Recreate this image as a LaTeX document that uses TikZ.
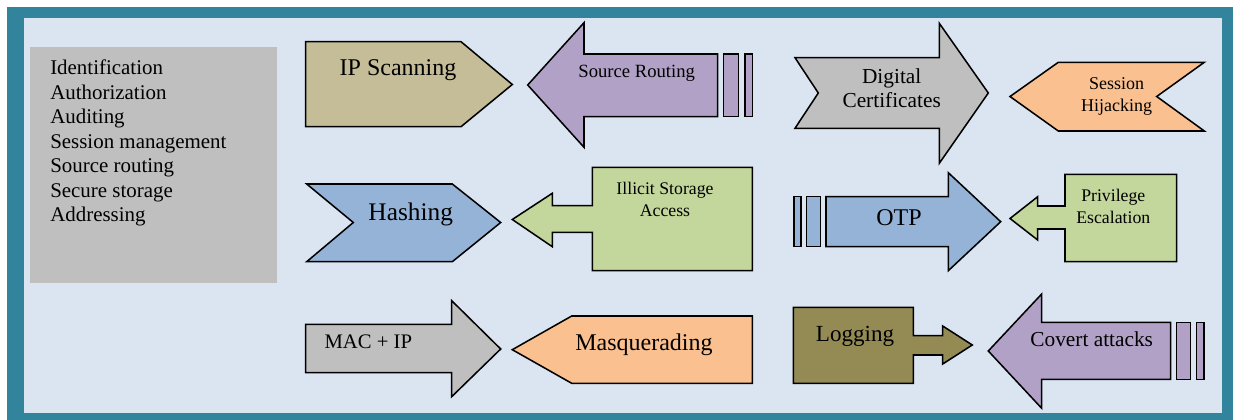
\documentclass[tikz,border=0pt]{standalone}
\usepackage{fontspec}
\IfFontExistsTF{LiberationSerif-Regular.ttf}
  {\setmainfont{LiberationSerif}[Extension=.ttf,UprightFont=*-Regular,BoldFont=*-Bold,ItalicFont=*-Italic,BoldItalicFont=*-BoldItalic]}
  {\setmainfont{DejaVu Serif}}
\definecolor{frameteal}{HTML}{31849B}
\definecolor{innerbg}{HTML}{DBE5F1}
\definecolor{grayfill}{HTML}{BFBFBF}
\definecolor{tanfill}{HTML}{C4BD97}
\definecolor{purplefill}{HTML}{B2A1C7}
\definecolor{orangefill}{HTML}{FAC090}
\definecolor{bluefill}{HTML}{95B3D7}
\definecolor{greenfill}{HTML}{C3D69B}
\definecolor{olivefill}{HTML}{948A54}
\newcommand{\fs}[1]{\fontsize{#1}{#1}\rmfamily\selectfont}
\begin{document}
\begin{tikzpicture}[x=0.75pt,y=-0.75pt,
  shp/.style={draw=black,line width=1.15pt,line join=miter},
  lbl/.style={anchor=base,inner sep=0pt,text=black},
  litem/.style={anchor=base west,inner sep=0pt,text=black,font=\fs{15.7}}]
\useasboundingbox (0,0) rectangle (1233,420);
\fill[white] (0,0) rectangle (1233,420);
\fill[frameteal] (6.7,7) rectangle (1233,420);
\fill[innerbg] (24,18) rectangle (1222,413);
% left list box
\fill[grayfill] (30,47) rectangle (277,283);
\node[litem] (l1) at (50,75) {Identification};
\node[litem] (l2) at (50,99.5) {Authorization};
\node[litem] (l3) at (50,124) {Auditing};
\node[litem] (l4) at (50,148.5) {Session management};
\node[litem] (l5) at (50,173) {Source routing};
\node[litem] (l6) at (50,197.5) {Secure storage};
\node[litem] (l7) at (50,222) {Addressing};
% row 1
\draw[shp,fill=tanfill] (305.7,41.7) -- (461,41.7) -- (512.3,84.5) -- (461,126.7) -- (305.7,126.7) -- cycle;
\node[lbl,font=\fs{18}] (ips) at (398,75.7) {IP Scanning};
\draw[shp,fill=purplefill] (527.7,85) -- (584,22.7) -- (584,54) -- (717.7,54) -- (717.7,116.7) -- (584,116.7) -- (584,147.3) -- cycle;
\draw[shp,fill=purplefill] (723.3,54) rectangle (738.3,116.7);
\draw[shp,fill=purplefill] (745,54) rectangle (752.7,116.7);
\node[lbl,font=\fs{14}] (sr) at (636.7,77.7) {Source Routing};
\draw[shp,fill=grayfill] (795,57.7) -- (939.3,57.7) -- (939.3,23.3) -- (988.3,93) -- (939.3,163.3) -- (939.3,128.3) -- (795,128.3) -- (818.3,93) -- cycle;
\node[lbl,font=\fs{16}] (dc1) at (891.7,83.3) {Digital};
\node[lbl,font=\fs{16}] (dc2) at (891.7,107.3) {Certificates};
\draw[shp,fill=orangefill] (1010,96.5) -- (1058.3,62.3) -- (1204.3,62.3) -- (1156.7,96.5) -- (1204.3,131) -- (1058.3,131) -- cycle;
\node[lbl,font=\fs{13.5}] (sh1) at (1116.7,90) {Session};
\node[lbl,font=\fs{13.5}] (sh2) at (1116.7,111.7) {Hijacking};
% row 2
\draw[shp,fill=bluefill] (306.7,184) -- (452.3,184) -- (500.7,222.5) -- (452.3,261.7) -- (306.7,261.7) -- (353.3,222.5) -- cycle;
\node[lbl,font=\fs{19}] (hs) at (410.7,220.7) {Hashing};
\draw[shp,fill=greenfill] (512.3,219.5) -- (552.3,193.3) -- (552.3,205.7) -- (592.3,205.7) -- (592.3,167.3) -- (752.3,167.3) -- (752.3,270.7) -- (592.3,270.7) -- (592.3,232.3) -- (552.3,232.3) -- (552.3,246.7) -- cycle;
\node[lbl,font=\fs{13.3}] (isa1) at (665,195) {Illicit Storage};
\node[lbl,font=\fs{13.3}] (isa2) at (665,216.7) {Access};
\draw[shp,fill=bluefill] (794,196.7) rectangle (801,246.7);
\draw[shp,fill=bluefill] (806.7,196.7) rectangle (820.7,246.7);
\draw[shp,fill=bluefill] (826,196.7) -- (948.3,196.7) -- (948.3,172.7) -- (1000.7,221.7) -- (948.3,270.7) -- (948.3,246.7) -- (826,246.7) -- cycle;
\node[lbl,font=\fs{18}] (otp) at (899,225.7) {OTP};
\draw[shp,fill=greenfill] (1010,218.5) -- (1037.7,196.7) -- (1037.7,206) -- (1065,206) -- (1065,174.3) -- (1176.7,174.3) -- (1176.7,261.7) -- (1065,261.7) -- (1065,229) -- (1037.7,229) -- (1037.7,240) -- cycle;
\node[lbl,font=\fs{13.3}] (pe1) at (1113.3,201.7) {Privilege};
\node[lbl,font=\fs{13.3}] (pe2) at (1113.3,223.3) {Escalation};
% row 3
\draw[shp,fill=grayfill] (305.7,324.3) -- (451.7,324.3) -- (451.7,300.7) -- (500.7,349) -- (451.7,396.7) -- (451.7,372.7) -- (305.7,372.7) -- cycle;
\node[lbl,font=\fs{15.5}] (mac) at (368.3,349) {MAC + IP};
\draw[shp,fill=orangefill] (512.3,349.7) -- (571.7,316) -- (752.3,316) -- (752.3,383.3) -- (571.7,383.3) -- cycle;
\node[lbl,font=\fs{18}] (mq) at (644,351) {Masquerading};
\draw[shp,fill=olivefill] (793.3,307.3) -- (913.3,307.3) -- (913.3,335.7) -- (942.7,335.7) -- (942.7,326) -- (972.3,345) -- (942.7,364) -- (942.7,355) -- (913.3,355) -- (913.3,383.3) -- (793.3,383.3) -- cycle;
\node[lbl,font=\fs{17.3}] (lg) at (855,341.7) {Logging};
\draw[shp,fill=purplefill] (988.3,351) -- (1041.7,294) -- (1041.7,322.3) -- (1170.7,322.3) -- (1170.7,379.3) -- (1041.7,379.3) -- (1041.7,408.3) -- cycle;
\draw[shp,fill=purplefill] (1176.7,322.3) rectangle (1190.7,379.3);
\draw[shp,fill=purplefill] (1196.7,322.3) rectangle (1204,379.3);
\node[lbl,font=\fs{16}] (ca) at (1091.7,346.7) {Covert attacks};
\end{tikzpicture}
\end{document}
